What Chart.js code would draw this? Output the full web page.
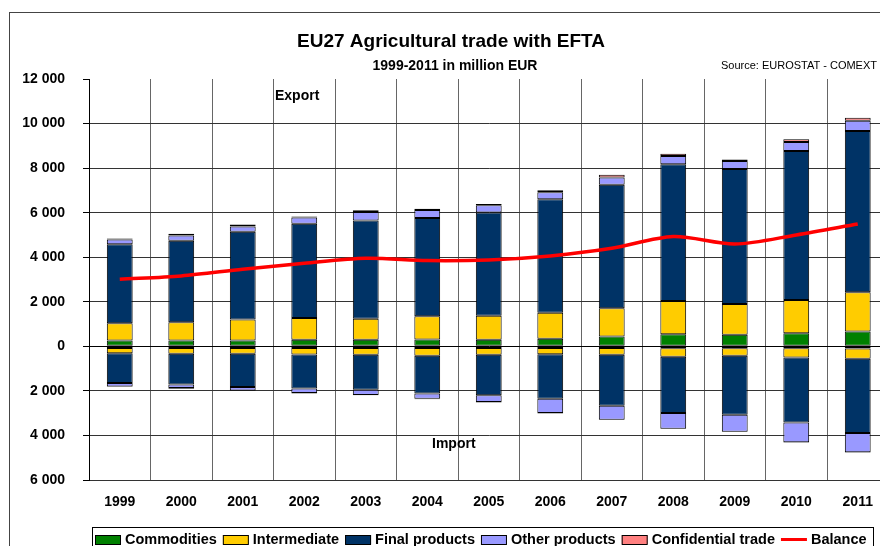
<!DOCTYPE html>
<html>
<head>
<meta charset="utf-8">
<title>EU27 Agricultural trade with EFTA</title>
<script src="https://cdn.jsdelivr.net/npm/chart.js@4.4.1/dist/chart.umd.min.js"></script>
<style>
  html, body { margin: 0; padding: 0; background: #fff; overflow: hidden; }
  #wrap { position: relative; width: 900px; height: 560px; }
</style>
</head>
<body>
<div id="wrap"><canvas id="tradeChart" width="900" height="560"></canvas></div>
<script>
// years and values (million EUR)
var years = ["1999", "2000", "2001", "2002", "2003", "2004", "2005", "2006", "2007", "2008", "2009", "2010", "2011"];

var expCommodities   = [260, 260, 260, 290, 290, 310, 290, 335, 440, 545, 515, 590, 665];
var expIntermediate  = [780, 825, 940, 980, 950, 1035, 1085, 1175, 1270, 1485, 1390, 1495, 1765];
var expFinal         = [3540, 3660, 3940, 4230, 4405, 4420, 4630, 5095, 5545, 6140, 6055, 6685, 7235];
var expOther         = [210, 230, 235, 280, 390, 355, 330, 315, 325, 375, 360, 400, 465];
var expConfidential  = [50, 80, 90, 50, 70, 60, 50, 90, 120, 100, 70, 120, 130];

var impCommodities   = [-70, -70, -70, -70, -70, -75, -75, -75, -80, -90, -90, -90, -100];
var impIntermediate  = [-240, -265, -265, -295, -310, -350, -305, -275, -295, -380, -335, -410, -460];
var impFinal         = [-1340, -1375, -1495, -1525, -1570, -1690, -1820, -2000, -2290, -2525, -2645, -2915, -3330];
var impOther         = [-150, -160, -150, -210, -230, -235, -300, -640, -625, -700, -760, -895, -865];
var impConfidential  = [-30, -30, -30, -20, -20, -20, -20, -20, -20, -20, -20, -20, -20];

var balance = [3010, 3160, 3460, 3730, 3955, 3850, 3880, 4060, 4400, 4930, 4595, 5000, 5490];

var FONT = '"Liberation Sans", Arial, Helvetica, sans-serif';

var colores = {
    commodities: "#008000",
    intermediate: "#FFCC00",
    final: "#003366",
    other: "#9999FF",
    confidential: "#FF8080",
    balance: "#FF0000"
};

function barSet(label, data, color) {
    return {
        type: "bar",
        label: label,
        data: data,
        backgroundColor: color,
        borderColor: "#000",
        borderWidth: 1,
        borderSkipped: false,
        stack: "trade",
        order: 1,
        barPercentage: 0.42,
        categoryPercentage: 1.0
    };
}

var legendItems = [
    { text: "Commodities", color: colores.commodities },
    { text: "Intermediate", color: colores.intermediate },
    { text: "Final products", color: colores.final },
    { text: "Other products", color: colores.other },
    { text: "Confidential trade", color: colores.confidential },
    { text: "Balance", color: colores.balance, line: true }
];

// frame, titles, Export/Import labels and the boxed legend
var decorPlugin = {
    id: "decor",
    afterDraw: function (chart) {
        var ctx = chart.ctx;
        ctx.save();

        ctx.strokeStyle = "#444";
        ctx.lineWidth = 1;
        ctx.strokeRect(9.5, 12.5, 1000, 1000);

        ctx.fillStyle = "#000";
        ctx.textBaseline = "middle";
        ctx.textAlign = "center";
        ctx.font = "bold 19px " + FONT;
        ctx.fillText("EU27 Agricultural trade with EFTA", 451, 42);
        ctx.font = "bold 14px " + FONT;
        ctx.fillText("1999-2011 in million EUR", 455, 66);

        ctx.textAlign = "right";
        ctx.font = "11px " + FONT;
        ctx.fillText("Source: EUROSTAT - COMEXT", 877, 66);

        ctx.textAlign = "left";
        ctx.font = "bold 14px " + FONT;
        ctx.fillText("Export", 275, 96);
        ctx.fillText("Import", 432, 444);

        // legend
        ctx.strokeStyle = "#000";
        ctx.lineWidth = 1;
        ctx.strokeRect(92.5, 527.5, 781, 40);
        ctx.font = "bold 14.5px " + FONT;
        ctx.textBaseline = "alphabetic";
        var x = 95;
        legendItems.forEach(function (item) {
            if (item.line) {
                ctx.strokeStyle = item.color;
                ctx.lineWidth = 3;
                ctx.beginPath();
                ctx.moveTo(x, 539.5);
                ctx.lineTo(x + 26, 539.5);
                ctx.stroke();
            } else {
                ctx.fillStyle = item.color;
                ctx.fillRect(x, 535, 26, 9);
                ctx.strokeStyle = "#000";
                ctx.lineWidth = 1;
                ctx.strokeRect(x + 0.5, 535.5, 25, 9);
            }
            ctx.fillStyle = "#000";
            ctx.fillText(item.text, x + 30, 544);
            x += 30 + ctx.measureText(item.text).width + 6;
        });

        ctx.restore();
    }
};

var canvas = document.getElementById("tradeChart").getContext("2d");
window.trade = new Chart(canvas, {
    data: {
        labels: years,
        datasets: [
            {
                type: "line",
                label: "Balance",
                data: balance,
                borderColor: colores.balance,
                borderWidth: 3.5,
                pointRadius: 0,
                tension: 0.3,
                fill: false,
                order: 0
            },
            barSet("Commodities", expCommodities, colores.commodities),
            barSet("Intermediate", expIntermediate, colores.intermediate),
            barSet("Final products", expFinal, colores.final),
            barSet("Other products", expOther, colores.other),
            barSet("Confidential trade", expConfidential, colores.confidential),
            barSet("Commodities import", impCommodities, colores.commodities),
            barSet("Intermediate import", impIntermediate, colores.intermediate),
            barSet("Final products import", impFinal, colores.final),
            barSet("Other products import", impOther, colores.other),
            barSet("Confidential trade import", impConfidential, colores.confidential)
        ]
    },
    options: {
        responsive: false,
        animation: false,
        layout: { padding: { left: 0, top: 79, right: 11.5, bottom: 40 } },
        plugins: {
            legend: { display: false },
            title: { display: false },
            tooltip: { enabled: false }
        },
        scales: {
            x: {
                stacked: true,
                afterFit: function (scale) { scale.height = 40; },
                grid: { color: "#666", lineWidth: 1, drawTicks: false, offset: true },
                border: { display: true, color: "#333", width: 1 },
                ticks: {
                    color: "#000",
                    padding: 14,
                    font: { family: FONT, size: 14, weight: "bold" }
                }
            },
            y: {
                stacked: true,
                min: -6000,
                max: 12000,
                afterFit: function (scale) { scale.width = 89; },
                grid: {
                    tickLength: 6,
                    tickColor: "#000",
                    lineWidth: 1,
                    color: function (c) {
                        if (c.tick && c.tick.value === 12000) return "rgba(0,0,0,0)";
                        if (c.tick && c.tick.value === 0) return "#000";
                        return "#333";
                    }
                },
                border: { display: true, color: "#000", width: 1 },
                ticks: {
                    stepSize: 2000,
                    color: "#000",
                    padding: 18,
                    font: { family: FONT, size: 14, weight: "bold" },
                    callback: function (v) {
                        var s = String(Math.abs(v));
                        return s.replace(/\B(?=(\d{3})+(?!\d))/g, " ");
                    }
                }
            }
        }
    },
    plugins: [decorPlugin]
});
</script>
</body>
</html>
